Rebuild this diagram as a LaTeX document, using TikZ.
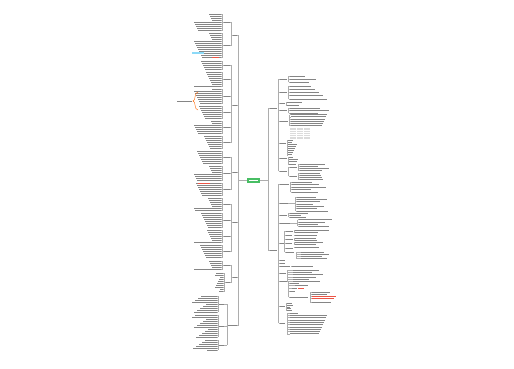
\documentclass[tikz,border=0pt]{standalone}
\definecolor{cgreen}{RGB}{72,190,100}
\definecolor{hotred}{RGB}{235,85,70}
\begin{document}
\tikzset{
  txt/.style={draw=black!48, line width=0.55pt},
  con/.style={draw=black!32, line width=0.3pt},
  hot/.style={draw=hotred, line width=0.7pt}
}
\newcommand\tb[3]{\draw[txt] ({#1},{#3}) -- ({#2},{#3});}
\newcommand\cl[3]{\draw[con] ({#1},{#3}) -- ({#2},{#3});}
\newcommand\vl[3]{\draw[con] ({#1},{#2}) -- ({#1},{#3});}
% left group: ya n xr xv min range
\newcommand\LG[6]{%
  \foreach \i in {1,...,#2}{%
    \pgfmathsetmacro\yy{#1+(\i-1)*2}%
    \pgfmathsetmacro\ll{#5+mod(\i*37+#1*3,#6)}%
    \draw[txt] ({#3-\ll},\yy) -- ({#3},\yy);
    \draw[con] ({#3},\yy) -- ({#4},\yy);
  }%
  \vl{#4}{#1}{#1+(#2-1)*2}}
\newcommand\LGL[3]{\LG{#1}{#2}{221}{222.5}{9}{19}\cl{222.5}{231.5}{#3}\tb{223.5}{230}{#3}}
\newcommand\LOne[1]{\cl{231.5}{238.5}{#1}\tb{232.5}{237.2}{#1}}
% right group: ya step n xl xv min range
\newcommand\RG[7]{%
  \foreach \i in {1,...,#3}{%
    \pgfmathsetmacro\yy{#1+(\i-1)*#2}%
    \pgfmathsetmacro\ll{#6+mod(\i*29+#1*7,#7)}%
    \draw[txt] ({#4},\yy) -- ({#4+\ll},\yy);
    \draw[con] ({#5},\yy) -- ({#4},\yy);
  }%
  \vl{#5}{#1}{#1+(#3-1)*#2}}
\newcommand\RL[4]{\cl{#1}{#2}{#4}\tb{#2}{#3}{#4}}
\begin{tikzpicture}[x=1pt,y=-1pt]
\useasboundingbox[fill=white] (0,0) rectangle (514,368);
% ---------------- left side ----------------
\LGL{14}{9}{22}
\LGL{33}{13}{45}
\vl{231.5}{22}{45}\LOne{35}
\LGL{61}{5}{65}
\LGL{72}{8}{79}
\LGL{89}{8}{96}
\LGL{106}{7}{112}
\LGL{121}{7}{127}
\LGL{136}{7}{142}
\vl{231.5}{65}{142}\LOne{105}
\LGL{151}{7}{157}
\LGL{166}{8}{173}
\LGL{183}{7}{189}
\vl{231.5}{157}{189}\LOne{172}
\LGL{198}{7}{204}
\LGL{213}{8}{220}
\LGL{230}{7}{236}
\LGL{245}{7}{251}
\vl{231.5}{204}{251}\LOne{222}
\LGL{261}{5}{265}
\LG{273}{10}{223}{224.5}{3}{6}\cl{224.5}{231.5}{282}\tb{225.5}{230}{282}
\vl{231.5}{265}{282}\LOne{277}
\LG{296}{9}{217}{218.3}{9}{17}\cl{218.3}{226.7}{304}\tb{219.3}{224}{304}
\LG{315}{12}{217}{218.3}{9}{17}\cl{218.3}{226.7}{326}\tb{219.3}{224}{326}
\LG{340}{6}{217}{218.3}{9}{17}\cl{218.3}{226.7}{345}\tb{219.3}{224}{345}
\vl{226.7}{304}{345}\cl{226.7}{238.5}{325}\tb{228}{237.2}{325}
\vl{238.5}{35}{325}
% highlights on the left
\fill[cyan!45] (192,51.8) rectangle (204,54.2);
\draw[hot] (212,57) -- (218.5,57);
\draw[hot] (198,183) -- (210,183);
\draw[orange!80!red, line width=0.4pt] (198,92) .. controls (194,92) and (196,101) .. (193,101) .. controls (196,101) and (194,110) .. (198,110);
\tb{177}{192}{101}
% ---------------- centre ----------------
\fill[cgreen] (247,178.4) rectangle (260,182.6);
\draw[white, line width=0.6pt] (249,180.5) -- (258,180.5);
\cl{238.5}{247}{180}
\cl{260}{268}{180}
% ---------------- right side ----------------
\vl{268}{108}{250}
\RL{268}{270}{277}{108}
\RL{268}{270}{277}{250}
% R1
\vl{278.5}{79}{171}
\RL{278.5}{280}{287}{79}\RG{76}{3}{3}{290}{288.5}{12}{18}
\RL{278.5}{280}{287}{92}\RG{86}{3.2}{5}{290}{288.5}{15}{25}
\RL{278.5}{280}{285}{103}\RG{102}{3}{2}{287}{285.8}{8}{8}
\RL{278.5}{280}{287}{110}\RG{108}{2.5}{3}{290}{288.5}{25}{20}
\RL{278.5}{280}{288}{121}\RG{114.5}{2.2}{6}{291}{289.5}{15}{30}
\fill[black!14] (290,127.5) rectangle (310,138.5);
\foreach \k in {129.7,131.9,134.1,136.3}{\draw[white,line width=0.3pt] (290,\k) -- (310,\k);}
\foreach \k in {296,303}{\draw[white,line width=0.3pt] (\k,127.5) -- (\k,138.5);}
\RL{278.5}{280}{286}{143}\RG{140}{2.1}{8}{288}{287}{4}{6}
\RL{278.5}{280}{287}{158}\RG{157}{2.3}{4}{289}{288}{4}{6}
\RL{278.5}{280}{287}{171}
\vl{288.5}{167}{176}
\RL{288.5}{290}{297}{167}\RG{164}{2.2}{4}{299.5}{298.2}{18}{18}
\RL{288.5}{290}{297}{176}\RG{173}{2.2}{4}{299.5}{298.2}{12}{14}
% R2
\vl{278.5}{184}{323}
\RL{278.5}{280}{289}{184}\RG{182}{2.5}{5}{292}{290.5}{15}{22}
\RL{278.5}{280}{288}{203}\cl{288}{295.5}{203}\RG{197}{2.3}{7}{297}{295.5}{15}{18}
\RL{278.5}{280}{287}{215}\RG{213}{2.2}{3}{290}{288.5}{10}{12}
\RL{278.5}{280}{290}{223}\cl{290}{297.5}{223}\RG{219.5}{2.3}{4}{299}{297.5}{15}{18}
\RL{278.5}{280}{283.5}{243}
\vl{284.5}{231}{252}
\RL{284.5}{286}{293}{231}\RG{230}{2.2}{2}{295}{294}{15}{20}
\RL{284.5}{286}{292}{235}\RG{235}{2}{1}{295}{294}{18}{10}
\RL{284.5}{286}{293}{239}\RG{238}{2.2}{2}{295}{294}{20}{14}
\RL{284.5}{286}{292}{243}\RG{242}{2.2}{2}{295}{294}{15}{18}
\RL{284.5}{286}{293}{248}\RG{247.5}{2}{1}{295}{294}{22}{10}
\RL{284.5}{286}{294}{252}\RG{252}{2.2}{4}{301}{296}{18}{12}
\RL{278.5}{280}{285}{260}
\RL{278.5}{280}{285}{263}
\RL{278.5}{280}{290}{266}\RG{266}{2}{1}{292}{291}{20}{10}
\RL{278.5}{280}{286}{273}\RG{270}{2.3}{6}{293}{287.5}{15}{18}
\RL{278.5}{280}{287}{281}
\vl{288.5}{281}{297}
\RL{288.5}{290}{299}{283}
\RL{288.5}{295}{308}{285.5}
\RL{288.5}{292}{297}{288}\draw[hot] (298,288) -- (304,288);
\RL{288.5}{290}{295}{291}
\RL{288.5}{290}{308}{297}
\vl{310}{292}{302}
\RL{310}{312}{330}{292}
\RL{310}{312}{327}{294}
\cl{310}{312}{296.5}\draw[hot] (312,296.5) -- (336,296.5);
\cl{310}{312}{298.6}\draw[hot] (312,298.6) -- (334,298.6);
\RL{310}{312}{331}{302}
\RL{278.5}{280}{285}{306}\RG{303}{1.9}{5}{287}{286}{3}{4}
\RL{278.5}{280}{285}{323}\RG{313}{2.3}{10}{290}{287}{8}{30}
\end{tikzpicture}
\end{document}
